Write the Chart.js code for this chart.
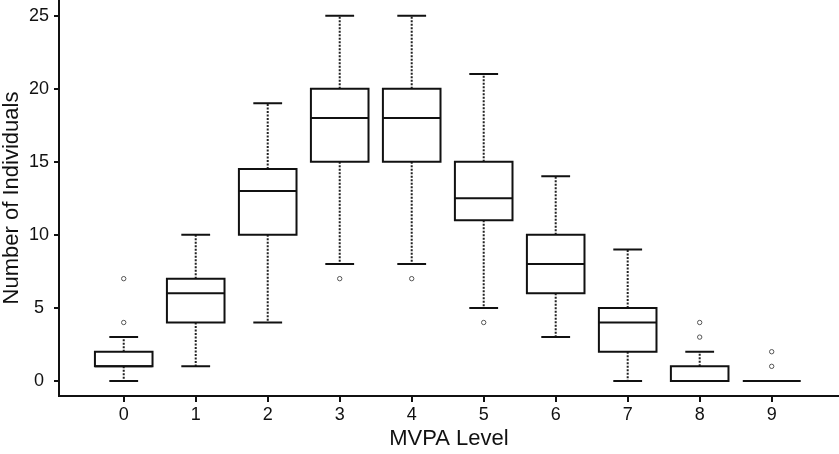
<!DOCTYPE html>
<html>
<head>
<meta charset="utf-8">
<script src="https://cdn.jsdelivr.net/npm/chart.js@4.4.1/dist/chart.umd.min.js"></script>
<style>
  html, body { margin: 0; padding: 0; background: #fff; }
  #wrap { width: 839px; height: 454px; }
</style>
</head>
<body>
<div id="wrap"><canvas id="c" width="839" height="454"></canvas></div>
<script>
// ---- data ----
const levels       = [0, 1, 2, 3, 4, 5, 6, 7, 8, 9];
const whiskerLow   = [0, 1, 4, 8, 8, 5, 3, 0, 0, 0];
const q1           = [1, 4, 10, 15, 15, 11, 6, 2, 0, 0];
const median       = [1, 6, 13, 18, 18, 12.5, 8, 4, 0, 0];
const q3           = [2, 7, 14.5, 20, 20, 15, 10, 5, 1, 0];
const whiskerHigh  = [3, 10, 19, 25, 25, 21, 14, 9, 2, 0];
const outlierLevel = [0, 0, 3, 4, 5, 8, 8, 9, 9];
const outlierValue = [4, 7, 7, 7, 4, 3, 4, 1, 2];
const yTickValues  = [0, 5, 10, 15, 20, 25];

const BOX_W = 0.8;   // in category units
const CAP_W = 0.4;

const boxPlugin = {
  id: 'boxes',
  beforeDatasetsDraw(chart) {
    const ctx = chart.ctx;
    const xs = chart.scales.x, ys = chart.scales.y;
    ctx.save();
    levels.forEach((lv, i) => {
      const xc = xs.getPixelForValue(lv);
      const half = (xs.getPixelForValue(lv + BOX_W / 2) - xs.getPixelForValue(lv - BOX_W / 2)) / 2;
      const capHalf = (xs.getPixelForValue(lv + CAP_W / 2) - xs.getPixelForValue(lv - CAP_W / 2)) / 2;
      const yLo = ys.getPixelForValue(whiskerLow[i]);
      const yQ1 = ys.getPixelForValue(q1[i]);
      const yMed = ys.getPixelForValue(median[i]);
      const yQ3 = ys.getPixelForValue(q3[i]);
      const yHi = ys.getPixelForValue(whiskerHigh[i]);

      // dotted whiskers
      ctx.strokeStyle = '#222';
      ctx.lineWidth = 2;
      ctx.setLineDash([2, 1.5]);
      ctx.beginPath();
      if (whiskerHigh[i] > q3[i]) { ctx.moveTo(xc, yQ3); ctx.lineTo(xc, yHi); }
      if (whiskerLow[i] < q1[i]) { ctx.moveTo(xc, yQ1); ctx.lineTo(xc, yLo); }
      ctx.stroke();
      ctx.setLineDash([]);

      // caps
      ctx.strokeStyle = '#111';
      ctx.lineWidth = 2;
      ctx.beginPath();
      ctx.moveTo(xc - capHalf, yHi); ctx.lineTo(xc + capHalf, yHi);
      ctx.moveTo(xc - capHalf, yLo); ctx.lineTo(xc + capHalf, yLo);
      ctx.stroke();

      // box
      ctx.fillStyle = '#fff';
      if (yQ1 - yQ3 > 0) ctx.fillRect(xc - half, yQ3, 2 * half, yQ1 - yQ3);
      ctx.beginPath();
      ctx.rect(xc - half, yQ3, 2 * half, yQ1 - yQ3);
      ctx.stroke();

      // median
      ctx.beginPath();
      ctx.moveTo(xc - half, yMed); ctx.lineTo(xc + half, yMed);
      ctx.stroke();
    });
    ctx.restore();
  }
};

const tickFont = { family: "'Liberation Sans', Arial, sans-serif", size: 18 };
const titleFont = { family: "'Liberation Sans', Arial, sans-serif", size: 22, lineHeight: 1.0 };

function noPad(scale) {
  scale.paddingTop = 0; scale.paddingBottom = 0;
  scale.paddingLeft = 0; scale.paddingRight = 0;
}

new Chart(document.getElementById('c'), {
  type: 'scatter',
  data: {
    datasets: [{
      label: 'outliers',
      data: outlierLevel.map((lv, i) => ({ x: lv, y: outlierValue[i] })),
      pointRadius: 2.2,
      pointHoverRadius: 2.2,
      pointBorderWidth: 1,
      pointBorderColor: '#555',
      pointBackgroundColor: '#fff'
    }]
  },
  options: {
    responsive: false,
    animation: false,
    events: [],
    layout: { padding: 0, autoPadding: false },
    plugins: { legend: { display: false }, tooltip: { enabled: false } },
    scales: {
      x: {
        type: 'linear',
        min: -0.899,
        max: 9.935,
        afterBuildTicks(scale) { scale.ticks = levels.map(v => ({ value: v })); },
        afterFit(scale) { scale.height = 58; noPad(scale); },
        border: { display: true, color: '#111', width: 2 },
        grid: { display: true, drawOnChartArea: false, drawTicks: true, tickLength: 6, color: '#111', lineWidth: 2 },
        ticks: { color: '#111', font: tickFont, padding: 2, maxRotation: 0, autoSkip: false },
        title: { display: true, text: 'MVPA Level', color: '#111', font: titleFont, padding: { top: 0, bottom: 4 } }
      },
      y: {
        type: 'linear',
        min: -1.03,
        max: 26.07,
        afterBuildTicks(scale) { scale.ticks = yTickValues.map(v => ({ value: v })); },
        afterFit(scale) { scale.width = 59; noPad(scale); },
        border: { display: true, color: '#111', width: 2 },
        grid: { display: true, drawOnChartArea: false, drawTicks: true, tickLength: 5, color: '#111', lineWidth: 2 },
        ticks: { color: '#111', font: tickFont, padding: 5, crossAlign: 'center' },
        title: { display: true, text: 'Number of Individuals', color: '#111', font: titleFont, padding: { top: 1, bottom: 0 } }
      }
    }
  },
  plugins: [boxPlugin]
});
</script>
</body>
</html>
